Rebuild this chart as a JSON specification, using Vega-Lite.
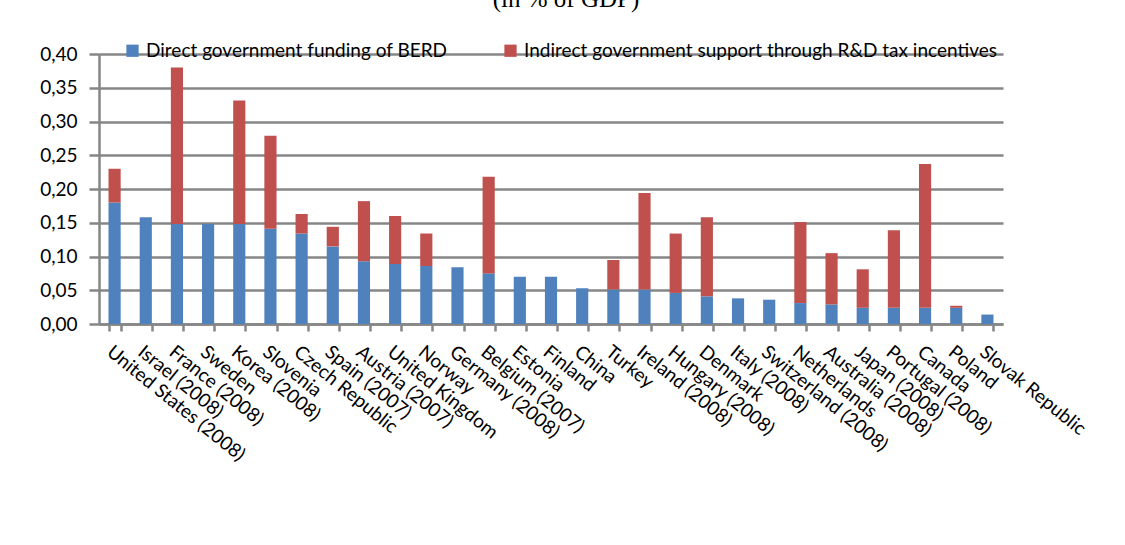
{
  "$schema": "https://vega.github.io/schema/vega-lite/v6.json",
  "autosize": {"type": "none"},
  "padding": {"left": 99, "top": 54, "right": 122, "bottom": 221},
  "width": 904,
  "height": 270,
  "background": "white",
  "title": {
    "text": "(in % of GDP)",
    "font": "Liberation Serif",
    "fontSize": 25,
    "fontWeight": "normal",
    "color": "#000000",
    "anchor": "middle",
    "frame": "group",
    "dx": 15,
    "dy": -9,
    "offset": 0,
    "baseline": "alphabetic"
  },
  "data": {
    "values": [
      {"country": "United States (2008)", "type": "Direct government funding of BERD", "value": 0.180},
      {"country": "United States (2008)", "type": "Indirect government support through R&D tax incentives", "value": 0.050},
      {"country": "Israel (2008)", "type": "Direct government funding of BERD", "value": 0.158},
      {"country": "France (2008)", "type": "Direct government funding of BERD", "value": 0.148},
      {"country": "France (2008)", "type": "Indirect government support through R&D tax incentives", "value": 0.232},
      {"country": "Sweden", "type": "Direct government funding of BERD", "value": 0.148},
      {"country": "Korea (2008)", "type": "Direct government funding of BERD", "value": 0.148},
      {"country": "Korea (2008)", "type": "Indirect government support through R&D tax incentives", "value": 0.183},
      {"country": "Slovenia", "type": "Direct government funding of BERD", "value": 0.141},
      {"country": "Slovenia", "type": "Indirect government support through R&D tax incentives", "value": 0.138},
      {"country": "Czech Republic", "type": "Direct government funding of BERD", "value": 0.134},
      {"country": "Czech Republic", "type": "Indirect government support through R&D tax incentives", "value": 0.029},
      {"country": "Spain (2007)", "type": "Direct government funding of BERD", "value": 0.115},
      {"country": "Spain (2007)", "type": "Indirect government support through R&D tax incentives", "value": 0.029},
      {"country": "Austria (2007)", "type": "Direct government funding of BERD", "value": 0.093},
      {"country": "Austria (2007)", "type": "Indirect government support through R&D tax incentives", "value": 0.089},
      {"country": "United Kingdom", "type": "Direct government funding of BERD", "value": 0.089},
      {"country": "United Kingdom", "type": "Indirect government support through R&D tax incentives", "value": 0.071},
      {"country": "Norway", "type": "Direct government funding of BERD", "value": 0.086},
      {"country": "Norway", "type": "Indirect government support through R&D tax incentives", "value": 0.048},
      {"country": "Germany (2008)", "type": "Direct government funding of BERD", "value": 0.084},
      {"country": "Belgium (2007)", "type": "Direct government funding of BERD", "value": 0.075},
      {"country": "Belgium (2007)", "type": "Indirect government support through R&D tax incentives", "value": 0.143},
      {"country": "Estonia", "type": "Direct government funding of BERD", "value": 0.070},
      {"country": "Finland", "type": "Direct government funding of BERD", "value": 0.070},
      {"country": "China", "type": "Direct government funding of BERD", "value": 0.053},
      {"country": "Turkey", "type": "Direct government funding of BERD", "value": 0.051},
      {"country": "Turkey", "type": "Indirect government support through R&D tax incentives", "value": 0.044},
      {"country": "Ireland (2008)", "type": "Direct government funding of BERD", "value": 0.051},
      {"country": "Ireland (2008)", "type": "Indirect government support through R&D tax incentives", "value": 0.143},
      {"country": "Hungary (2008)", "type": "Direct government funding of BERD", "value": 0.046},
      {"country": "Hungary (2008)", "type": "Indirect government support through R&D tax incentives", "value": 0.088},
      {"country": "Denmark", "type": "Direct government funding of BERD", "value": 0.041},
      {"country": "Denmark", "type": "Indirect government support through R&D tax incentives", "value": 0.117},
      {"country": "Italy (2008)", "type": "Direct government funding of BERD", "value": 0.038},
      {"country": "Switzerland (2008)", "type": "Direct government funding of BERD", "value": 0.036},
      {"country": "Netherlands", "type": "Direct government funding of BERD", "value": 0.031},
      {"country": "Netherlands", "type": "Indirect government support through R&D tax incentives", "value": 0.120},
      {"country": "Australia (2008)", "type": "Direct government funding of BERD", "value": 0.029},
      {"country": "Australia (2008)", "type": "Indirect government support through R&D tax incentives", "value": 0.076},
      {"country": "Japan (2008)", "type": "Direct government funding of BERD", "value": 0.024},
      {"country": "Japan (2008)", "type": "Indirect government support through R&D tax incentives", "value": 0.057},
      {"country": "Portugal (2008)", "type": "Direct government funding of BERD", "value": 0.024},
      {"country": "Portugal (2008)", "type": "Indirect government support through R&D tax incentives", "value": 0.115},
      {"country": "Canada", "type": "Direct government funding of BERD", "value": 0.024},
      {"country": "Canada", "type": "Indirect government support through R&D tax incentives", "value": 0.213},
      {"country": "Poland", "type": "Direct government funding of BERD", "value": 0.024},
      {"country": "Poland", "type": "Indirect government support through R&D tax incentives", "value": 0.003},
      {"country": "Slovak Republic", "type": "Direct government funding of BERD", "value": 0.014}
    ]
  },
  "mark": {"type": "bar"},
  "encoding": {
    "x": {
      "field": "country",
      "type": "nominal",
      "sort": null,
      "scale": {"paddingInner": 0.61, "paddingOuter": 0.305},
      "axis": {
        "title": null,
        "labelAngle": 39,
        "labelAlign": "left",
        "labelBaseline": "top",
        "labelPadding": 11,
        "labelFont": "Lato",
        "labelFontSize": 19,
        "labelColor": "#000000",
        "labelLimit": 400,
        "labelOverlap": false,
        "tickBand": "extent",
        "tickSize": 7,
        "tickWidth": 2.5,
        "tickColor": "#868686",
        "domainColor": "#868686",
        "domainWidth": 2.5,
        "grid": false
      }
    },
    "y": {
      "field": "value",
      "type": "quantitative",
      "stack": "zero",
      "scale": {"domain": [0, 0.4], "nice": false},
      "axis": {
        "title": null,
        "values": [0, 0.05, 0.1, 0.15, 0.2, 0.25, 0.3, 0.35, 0.4],
        "labelExpr": "replace(format(datum.value, '.2f'), '.', ',')",
        "labelFont": "Lato",
        "labelFontSize": 19,
        "labelColor": "#000000",
        "labelPadding": 12,
        "tickSize": 10,
        "tickWidth": 2.5,
        "tickColor": "#868686",
        "domainColor": "#868686",
        "domainWidth": 2.5,
        "grid": true,
        "gridColor": "#868686",
        "gridWidth": 2.5,
        "gridOpacity": 1
      }
    },
    "order": {"field": "type", "sort": "ascending"},
    "color": {
      "field": "type",
      "type": "nominal",
      "scale": {
        "domain": ["Direct government funding of BERD", "Indirect government support through R&D tax incentives"],
        "range": ["#4F81BD", "#C0504D"]
      },
      "legend": {
        "title": null,
        "orient": "none",
        "direction": "horizontal",
        "legendX": 24,
        "legendY": -13,
        "padding": 0,
        "symbolType": "square",
        "symbolSize": 150,
        "symbolStrokeWidth": 0,
        "labelFont": "Lato",
        "labelFontSize": 19,
        "labelColor": "#000000",
        "labelOffset": 4,
        "labelLimit": 700,
        "columnPadding": 53
      }
    }
  },
  "config": {
    "view": {"stroke": null}
  }
}
